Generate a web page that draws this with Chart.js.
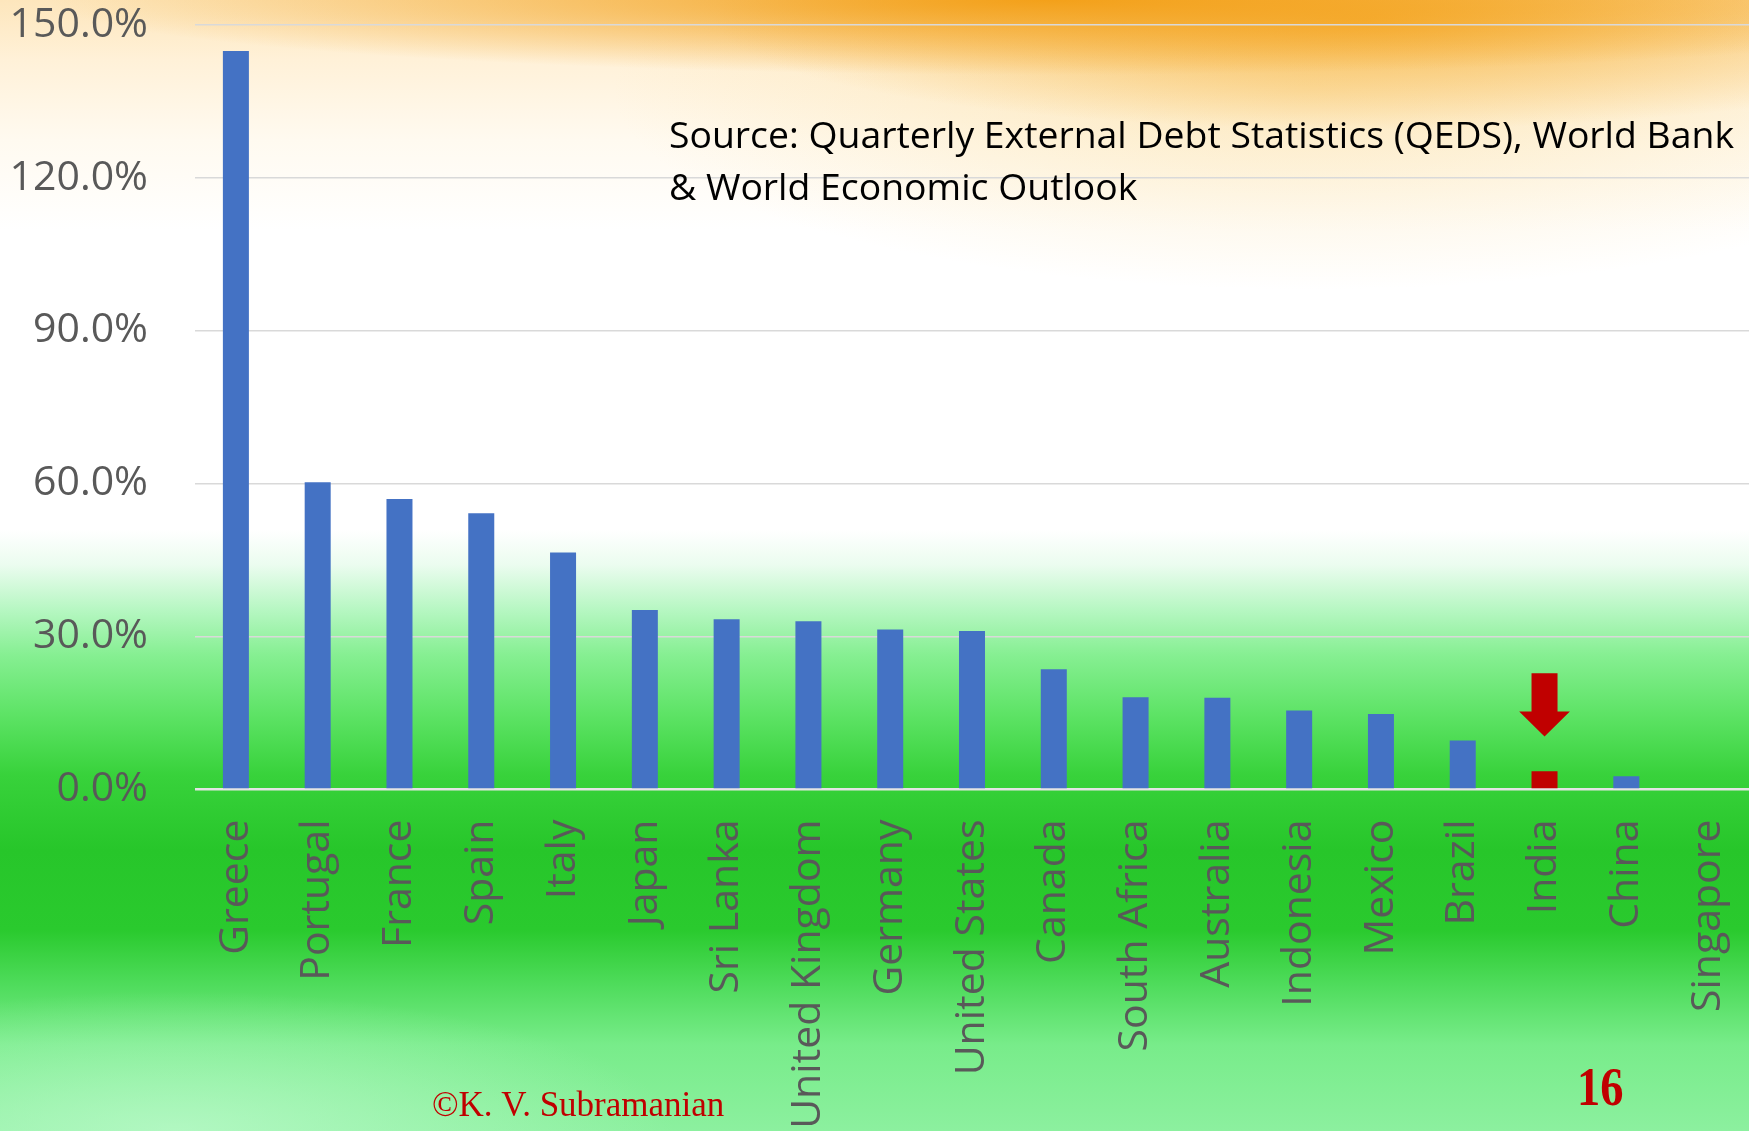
<!DOCTYPE html>
<html>
<head>
<meta charset="utf-8">
<script src="https://cdn.jsdelivr.net/npm/chart.js@4.4.1/dist/chart.umd.min.js"></script>
<style>
  html, body { margin: 0; padding: 0; width: 1749px; height: 1131px; overflow: hidden; }
  body {
    background:
      radial-gradient(ellipse 1000px 75px at 60% 0px, rgba(243,158,20,0.95), rgba(243,158,20,0) 100%),
      radial-gradient(ellipse 650px 110px at 78% 20px, rgba(245,170,40,0.75), rgba(245,170,40,0) 100%),
      radial-gradient(ellipse 700px 200px at 75% 90px, rgba(250,215,140,0.45), rgba(250,215,140,0) 100%),
      radial-gradient(ellipse 500px 140px at 10% 1131px, rgba(190,250,205,0.75), rgba(190,250,205,0) 100%),
      linear-gradient(to bottom,
        #fde6bc 0px, #fff1d8 60px, #fffaf0 140px, #ffffff 230px, #ffffff 530px,
        #ebfcef 565px, #b6f7c2 610px, #86ef92 655px, #5de365 715px, #38d23b 775px,
        #27c62a 850px, #2aca2e 930px, #4fdc5c 985px, #78ec8a 1045px, #8cf09f 1131px);
  }
  canvas { display: block; }
</style>
</head>
<body>
<canvas id="chart" width="1749" height="1131"></canvas>
<script>
// External debt as a share of GDP, by country
const countries = [
  'Greece', 'Portugal', 'France', 'Spain', 'Italy', 'Japan', 'Sri Lanka',
  'United Kingdom', 'Germany', 'United States', 'Canada', 'South Africa',
  'Australia', 'Indonesia', 'Mexico', 'Brazil', 'India', 'China', 'Singapore'
];
const externalDebtPct = [
  144.9, 60.3, 57.0, 54.2, 46.5, 35.2, 33.4,
  33.0, 31.4, 31.1, 23.6, 18.1,
  18.0, 15.5, 14.8, 9.6, 3.6, 2.6, 0
];
const highlightCountry = 'India';
const yTickValues = [0, 30, 60, 90, 120, 150];

// Down-arrow marker above the highlighted bar: tail, neck and tip levels (percent)
const arrowLevels = [22.8, 15.3, 10.4];

const sourceLines = [
  'Source: Quarterly External Debt Statistics (QEDS), World Bank',
  '& World Economic Outlook'
];
const creditText = '\u00A9K. V. Subramanian';
const pageNumber = '16';

const BLUE = '#4472C4';
const RED = '#C00000';

const barColors = countries.map(c => c === highlightCountry ? RED : BLUE);

// Arrow marker and slide texts drawn on top of the chart
const overlayPlugin = {
  id: 'overlay',
  afterDatasetsDraw(chart) {
    const ctx = chart.ctx;
    const y = chart.scales.y;
    const idx = countries.indexOf(highlightCountry);
    const bar = chart.getDatasetMeta(0).data[idx];
    const half = bar.width / 2;
    const headHalf = bar.width * 0.975;
    const yTail = y.getPixelForValue(arrowLevels[0]);
    const yNeck = y.getPixelForValue(arrowLevels[1]);
    const yTip = y.getPixelForValue(arrowLevels[2]);
    ctx.save();
    ctx.fillStyle = RED;
    ctx.beginPath();
    ctx.moveTo(bar.x - half, yTail);
    ctx.lineTo(bar.x + half, yTail);
    ctx.lineTo(bar.x + half, yNeck);
    ctx.lineTo(bar.x + headHalf, yNeck);
    ctx.lineTo(bar.x, yTip);
    ctx.lineTo(bar.x - headHalf, yNeck);
    ctx.lineTo(bar.x - half, yNeck);
    ctx.closePath();
    ctx.fill();
    ctx.restore();
  },
  afterDraw(chart) {
    const ctx = chart.ctx;
    ctx.save();
    // source note, fitted to its line width
    ctx.fillStyle = '#000000';
    ctx.font = '37px "Open Sans"';
    ctx.textBaseline = 'alphabetic';
    ctx.textAlign = 'left';
    const w = ctx.measureText(sourceLines[0]).width;
    const sx = 1065 / w;
    sourceLines.forEach((line, i) => {
      ctx.save();
      ctx.translate(669, 148 + i * 52);
      ctx.scale(sx, 1);
      ctx.fillText(line, 0, 0);
      ctx.restore();
    });
    // credit
    ctx.fillStyle = RED;
    ctx.font = '35px "Liberation Serif"';
    ctx.fillText(creditText, 432, 1116);
    // page number
    ctx.font = 'bold 54px "Liberation Serif"';
    ctx.save();
    ctx.translate(1577, 1105);
    ctx.scale(0.86, 1);
    ctx.fillText(pageNumber, 0, 0);
    ctx.restore();
    ctx.restore();
  }
};

new Chart(document.getElementById('chart'), {
  type: 'bar',
  data: {
    labels: countries,
    datasets: [{
      data: externalDebtPct,
      backgroundColor: barColors,
      borderWidth: 0,
      categoryPercentage: 1,
      barPercentage: 0.318
    }]
  },
  options: {
    responsive: false,
    animation: false,
    devicePixelRatio: 1,
    layout: { padding: { top: 25, right: 0, bottom: 0, left: 0 } },
    plugins: { legend: { display: false }, tooltip: { enabled: false } },
    scales: {
      x: {
        grid: { display: false, drawTicks: false },
        border: { display: false },
        ticks: {
          autoSkip: false,
          minRotation: 90,
          maxRotation: 90,
          padding: 30,
          color: '#595959',
          font: { family: '"Open Sans"', size: 41 }
        },
        afterFit(scale) {
          scale.height = 341.5;
          scale.paddingLeft = 0;
          scale.paddingRight = 0;
        }
      },
      y: {
        min: 0,
        max: 150,
        afterBuildTicks(scale) { scale.ticks = yTickValues.map(v => ({ value: v })); },
        grid: {
          drawTicks: false,
          color: c => c.tick && c.tick.value === 0 ? '#e4e4e4' : '#d9d9d9',
          lineWidth: c => c.tick && c.tick.value === 0 ? 2.5 : 1.5
        },
        border: { display: false },
        ticks: {
          padding: 47,
          color: '#595959',
          font: { family: '"Open Sans"', size: 41 },
          callback: v => v.toFixed(1) + '%'
        },
        afterFit(scale) {
          scale.width = 195;
          scale.paddingTop = 0;
          scale.paddingBottom = 0;
        }
      }
    }
  },
  plugins: [overlayPlugin]
});
</script>
</body>
</html>
